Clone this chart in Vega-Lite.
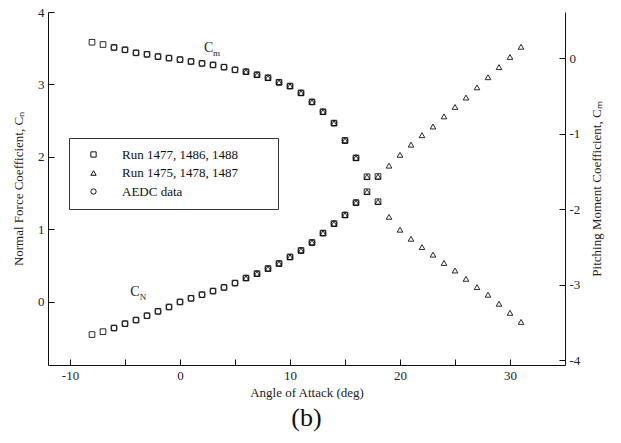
{
"$schema":"https://vega.github.io/schema/vega-lite/v6.json",
"width":517,"height":353,
"autosize":{"type":"none"},
"padding":{"left":48,"top":12,"right":56,"bottom":78},
"background":"white",
"title":{"text":"(b)","orient":"bottom","anchor":"middle","font":"Liberation Serif","fontSize":26,"fontWeight":"normal","color":"#111","offset":6},
"config":{
 "view":{"stroke":null},
 "axis":{"grid":false,"domainColor":"#111","domainWidth":1,"tickColor":"#111","tickWidth":1,"labelFont":"Liberation Serif","labelFontSize":13,"labelColor":"#222","titleFont":"Liberation Serif","titleFontSize":13,"titleFontWeight":"normal","titleColor":"#222"}
},
"datasets":{"pts":[
{"a":-8,"cn":-0.45,"cm":0.21,"s":"Run 1477, 1486, 1488"},
{"a":-7,"cn":-0.41,"cm":0.18,"s":"Run 1477, 1486, 1488"},
{"a":-6,"cn":-0.36,"cm":0.14,"s":"Run 1477, 1486, 1488"},
{"a":-5,"cn":-0.30,"cm":0.11,"s":"Run 1477, 1486, 1488"},
{"a":-4,"cn":-0.25,"cm":0.07,"s":"Run 1477, 1486, 1488"},
{"a":-3,"cn":-0.19,"cm":0.05,"s":"Run 1477, 1486, 1488"},
{"a":-2,"cn":-0.13,"cm":0.02,"s":"Run 1477, 1486, 1488"},
{"a":-1,"cn":-0.07,"cm":0.0,"s":"Run 1477, 1486, 1488"},
{"a":0,"cn":0.0,"cm":-0.02,"s":"Run 1477, 1486, 1488"},
{"a":1,"cn":0.05,"cm":-0.045,"s":"Run 1477, 1486, 1488"},
{"a":2,"cn":0.10,"cm":-0.07,"s":"Run 1477, 1486, 1488"},
{"a":3,"cn":0.15,"cm":-0.09,"s":"Run 1477, 1486, 1488"},
{"a":4,"cn":0.20,"cm":-0.12,"s":"Run 1477, 1486, 1488"},
{"a":5,"cn":0.26,"cm":-0.155,"s":"Run 1477, 1486, 1488"},
{"a":6,"cn":0.33,"cm":-0.18,"s":"Run 1477, 1486, 1488"},
{"a":7,"cn":0.39,"cm":-0.22,"s":"Run 1477, 1486, 1488"},
{"a":8,"cn":0.46,"cm":-0.26,"s":"Run 1477, 1486, 1488"},
{"a":9,"cn":0.53,"cm":-0.32,"s":"Run 1477, 1486, 1488"},
{"a":10,"cn":0.62,"cm":-0.37,"s":"Run 1477, 1486, 1488"},
{"a":11,"cn":0.71,"cm":-0.46,"s":"Run 1477, 1486, 1488"},
{"a":12,"cn":0.82,"cm":-0.58,"s":"Run 1477, 1486, 1488"},
{"a":13,"cn":0.95,"cm":-0.71,"s":"Run 1477, 1486, 1488"},
{"a":14,"cn":1.08,"cm":-0.86,"s":"Run 1477, 1486, 1488"},
{"a":15,"cn":1.20,"cm":-1.09,"s":"Run 1477, 1486, 1488"},
{"a":16,"cn":1.37,"cm":-1.32,"s":"Run 1477, 1486, 1488"},
{"a":17,"cn":1.52,"cm":-1.57,"s":"Run 1477, 1486, 1488"},
{"a":18,"cn":1.73,"cm":-1.90,"s":"Run 1477, 1486, 1488"},
{"a":6,"cn":0.33,"cm":-0.18,"s":"Run 1475, 1478, 1487"},
{"a":7,"cn":0.39,"cm":-0.22,"s":"Run 1475, 1478, 1487"},
{"a":8,"cn":0.46,"cm":-0.26,"s":"Run 1475, 1478, 1487"},
{"a":9,"cn":0.53,"cm":-0.32,"s":"Run 1475, 1478, 1487"},
{"a":10,"cn":0.62,"cm":-0.37,"s":"Run 1475, 1478, 1487"},
{"a":11,"cn":0.71,"cm":-0.46,"s":"Run 1475, 1478, 1487"},
{"a":12,"cn":0.82,"cm":-0.58,"s":"Run 1475, 1478, 1487"},
{"a":13,"cn":0.95,"cm":-0.71,"s":"Run 1475, 1478, 1487"},
{"a":14,"cn":1.08,"cm":-0.86,"s":"Run 1475, 1478, 1487"},
{"a":15,"cn":1.20,"cm":-1.09,"s":"Run 1475, 1478, 1487"},
{"a":16,"cn":1.37,"cm":-1.32,"s":"Run 1475, 1478, 1487"},
{"a":17,"cn":1.52,"cm":-1.57,"s":"Run 1475, 1478, 1487"},
{"a":18,"cn":1.73,"cm":-1.90,"s":"Run 1475, 1478, 1487"},
{"a":19,"cn":1.88,"cm":-2.10,"s":"Run 1475, 1478, 1487"},
{"a":20,"cn":2.03,"cm":-2.27,"s":"Run 1475, 1478, 1487"},
{"a":21,"cn":2.17,"cm":-2.39,"s":"Run 1475, 1478, 1487"},
{"a":22,"cn":2.30,"cm":-2.50,"s":"Run 1475, 1478, 1487"},
{"a":23,"cn":2.42,"cm":-2.60,"s":"Run 1475, 1478, 1487"},
{"a":24,"cn":2.56,"cm":-2.71,"s":"Run 1475, 1478, 1487"},
{"a":25,"cn":2.69,"cm":-2.81,"s":"Run 1475, 1478, 1487"},
{"a":26,"cn":2.82,"cm":-2.92,"s":"Run 1475, 1478, 1487"},
{"a":27,"cn":2.96,"cm":-3.03,"s":"Run 1475, 1478, 1487"},
{"a":28,"cn":3.10,"cm":-3.13,"s":"Run 1475, 1478, 1487"},
{"a":29,"cn":3.24,"cm":-3.25,"s":"Run 1475, 1478, 1487"},
{"a":30,"cn":3.38,"cm":-3.37,"s":"Run 1475, 1478, 1487"},
{"a":31,"cn":3.52,"cm":-3.49,"s":"Run 1475, 1478, 1487"},
{"a":-6,"cn":-0.36,"cm":0.14,"s":"AEDC data"},
{"a":-5,"cn":-0.30,"cm":0.11,"s":"AEDC data"},
{"a":-4,"cn":-0.25,"cm":0.07,"s":"AEDC data"},
{"a":-3,"cn":-0.19,"cm":0.05,"s":"AEDC data"},
{"a":-2,"cn":-0.13,"cm":0.02,"s":"AEDC data"},
{"a":-1,"cn":-0.07,"cm":0.0,"s":"AEDC data"},
{"a":0,"cn":0.0,"cm":-0.02,"s":"AEDC data"},
{"a":1,"cn":0.05,"cm":-0.045,"s":"AEDC data"},
{"a":2,"cn":0.10,"cm":-0.07,"s":"AEDC data"},
{"a":3,"cn":0.15,"cm":-0.09,"s":"AEDC data"},
{"a":4,"cn":0.20,"cm":-0.12,"s":"AEDC data"},
{"a":5,"cn":0.26,"cm":-0.155,"s":"AEDC data"},
{"a":6,"cn":0.33,"cm":-0.18,"s":"AEDC data"},
{"a":7,"cn":0.39,"cm":-0.22,"s":"AEDC data"},
{"a":8,"cn":0.46,"cm":-0.26,"s":"AEDC data"},
{"a":9,"cn":0.53,"cm":-0.32,"s":"AEDC data"},
{"a":10,"cn":0.62,"cm":-0.37,"s":"AEDC data"},
{"a":11,"cn":0.71,"cm":-0.46,"s":"AEDC data"},
{"a":12,"cn":0.82,"cm":-0.58,"s":"AEDC data"},
{"a":13,"cn":0.95,"cm":-0.71,"s":"AEDC data"},
{"a":14,"cn":1.08,"cm":-0.86,"s":"AEDC data"},
{"a":15,"cn":1.20,"cm":-1.09,"s":"AEDC data"},
{"a":16,"cn":1.37,"cm":-1.32,"s":"AEDC data"}
]},
"layer":[
 {
  "data":{"name":"pts"},
  "encoding":{
   "x":{"field":"a","type":"quantitative","scale":{"domain":[-12,35],"nice":false,"zero":false},
        "axis":{"orient":"bottom","values":[-10,-5,0,5,10,15,20,25,30],"labelExpr":"datum.value % 10 === 0 ? replace(datum.label, '−', '-') : ''","tickSize":-6,"labelPadding":10,"title":"Angle of Attack (deg)","titlePadding":4}},
   "y":{"field":"cn","type":"quantitative","scale":{"domain":[-0.87,4.0],"nice":false,"zero":false},
        "axis":{"orient":"left","values":[0,1,2,3,4],"tickSize":-6,"labelPadding":10,"title":"Normal Force Coefficient, Cₙ","titlePadding":12}}
  },
  "layer":[
   {"data":{"values":[{"edge":"top"}]},"mark":{"type":"rule","color":"#111","strokeWidth":1},
    "encoding":{"x":{"datum":-12},"x2":{"datum":35},"y":{"datum":4.0}}},
   {"data":{"values":[{"a":-10},{"a":-5},{"a":0},{"a":5},{"a":10},{"a":15},{"a":20},{"a":25},{"a":30}]},"mark":{"type":"rule","color":"#111","strokeWidth":1},
    "encoding":{"y":{"datum":4.0},"y2":{"datum":3.917}}},
   {"mark":{"type":"point","filled":false,"size":32,"strokeWidth":0.9,"color":"#111","opacity":1},
    "encoding":{"shape":{"field":"s","type":"nominal","scale":{"domain":["Run 1477, 1486, 1488","Run 1475, 1478, 1487","AEDC data"],"range":["square","triangle-up","circle"]},
      "legend":{"title":null,"orient":"none","legendX":21,"legendY":126,"strokeColor":"#333","fillColor":"white","padding":10,"symbolSize":28,"symbolStrokeWidth":1,"symbolStrokeColor":"#111","symbolFillColor":"transparent","labelFont":"Liberation Serif","labelFontSize":13,"labelColor":"#111","labelOffset":22,"rowPadding":4.5,"symbolOffset":8,"labelLimit":300,"labelExpr":"datum.label + '\u00a0\u00a0\u00a0\u00a0\u00a0\u00a0\u00a0\u00a0\u00a0\u200b'"}}}},
   {"data":{"values":[{"a":-4.1,"cn":0.14}]},"mark":{"type":"text","text":"C","font":"Liberation Serif","fontSize":14,"color":"#222"}},
   {"data":{"values":[{"a":-4.1,"cn":0.14}]},"mark":{"type":"text","text":"N","font":"Liberation Serif","fontSize":9,"dx":8,"dy":5,"color":"#222"}}
  ]
 },
 {
  "data":{"name":"pts"},
  "encoding":{
   "x":{"field":"a","type":"quantitative","scale":{"domain":[-12,35],"nice":false,"zero":false},"axis":null},
   "y":{"field":"cm","type":"quantitative","scale":{"domain":[-4.06,0.61],"nice":false,"zero":false},
        "axis":{"orient":"right","values":[0,-1,-2,-3,-4],"tickSize":-6,"labelPadding":10,"labelExpr":"replace(datum.label, '−', '-')","title":"Pitching Moment Coefficient, Cₘ","titlePadding":24,"titleAngle":270}}
  },
  "layer":[
   {"mark":{"type":"point","filled":false,"size":32,"strokeWidth":0.9,"color":"#111","opacity":1},
    "encoding":{"shape":{"field":"s","type":"nominal","scale":{"domain":["Run 1477, 1486, 1488","Run 1475, 1478, 1487","AEDC data"],"range":["square","triangle-up","circle"]},
      "legend":{"title":null,"orient":"none","legendX":21,"legendY":126,"strokeColor":"#333","fillColor":"white","padding":10,"symbolSize":28,"symbolStrokeWidth":1,"symbolStrokeColor":"#111","symbolFillColor":"transparent","labelFont":"Liberation Serif","labelFontSize":13,"labelColor":"#111","labelOffset":22,"rowPadding":4.5,"symbolOffset":8,"labelLimit":300,"labelExpr":"datum.label + '\u00a0\u00a0\u00a0\u00a0\u00a0\u00a0\u00a0\u00a0\u00a0\u200b'"}}}},
   {"data":{"values":[{"a":2.6,"cm":0.13}]},"mark":{"type":"text","text":"C","font":"Liberation Serif","fontSize":14,"color":"#222"}},
   {"data":{"values":[{"a":2.6,"cm":0.13}]},"mark":{"type":"text","text":"m","font":"Liberation Serif","fontSize":9,"dx":8,"dy":5,"color":"#222"}}
  ]
 }
],
"resolve":{"scale":{"y":"independent","x":"independent"},"axis":{"x":"independent"}}
}
